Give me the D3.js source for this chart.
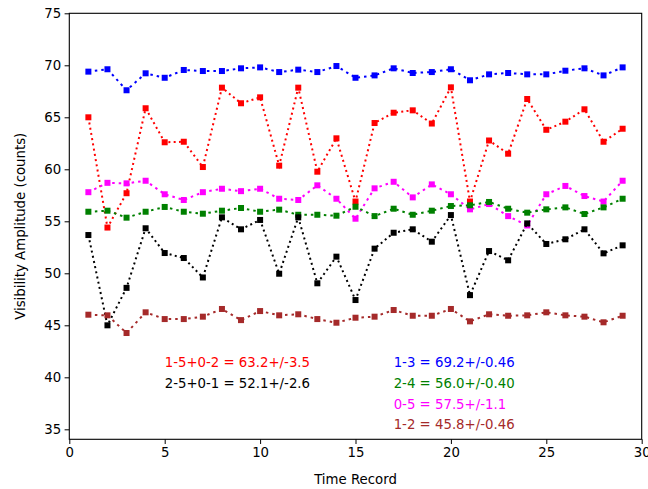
<!DOCTYPE html>
<html>
<head>
<meta charset="utf-8">
<script src="https://cdn.jsdelivr.net/npm/d3@7"></script>
<style>
  body { margin: 0; background: #fff; }
  svg { display: block; font-family: "DejaVu Sans", sans-serif; }
</style>
</head>
<body>
<div id="chart"></div>
<script>
// Time records 1..29
const records = d3.range(1, 30);

// Visibility amplitudes per baseline
const amp13 = [69.39, 69.62, 67.6, 69.23, 68.8, 69.55, 69.45, 69.45, 69.71, 69.8,
  69.35, 69.58, 69.35, 69.93, 68.8, 69.03, 69.71, 69.26, 69.35, 69.62,
  68.56, 69.13, 69.26, 69.13, 69.13, 69.48, 69.71, 69.03, 69.8];
const amp1502 = [65.0, 54.4, 57.7, 65.87, 62.6, 62.65, 60.22, 67.85, 66.35, 66.92,
  60.35, 67.85, 59.77, 62.98, 56.9, 64.45, 65.44, 65.67, 64.4, 67.88,
  56.9, 62.77, 61.5, 66.76, 63.8, 64.58, 65.77, 62.65, 63.9];
const amp05 = [57.8, 58.7, 58.65, 58.9, 57.6, 57.05, 57.8, 58.13, 57.9, 58.13,
  57.17, 57.05, 58.46, 57.17, 55.25, 58.17, 58.8, 57.3, 58.55, 57.6,
  56.15, 56.66, 55.5, 54.6, 57.6, 58.4, 57.43, 56.9, 58.9];
const amp24 = [55.92, 56.02, 55.35, 55.92, 56.38, 55.92, 55.73, 56.02, 56.28, 55.92,
  56.12, 55.63, 55.63, 55.54, 56.4, 55.5, 56.21, 55.63, 56.02, 56.47,
  56.54, 56.86, 56.21, 55.83, 56.15, 56.34, 55.7, 56.34, 57.17];
const amp2501 = [53.68, 45.0, 48.6, 54.33, 51.95, 51.47, 49.6, 55.38, 54.23, 55.13,
  49.96, 55.38, 49.04, 51.6, 47.43, 52.37, 53.9, 54.23, 53.04, 55.6,
  47.9, 52.14, 51.25, 54.8, 52.82, 53.27, 54.23, 51.92, 52.69];
const amp12 = [46.02, 45.96, 44.26, 46.25, 45.6, 45.6, 45.83, 46.57, 45.5, 46.37,
  45.96, 46.06, 45.6, 45.25, 45.73, 45.83, 46.47, 45.92, 45.92, 46.57,
  45.38, 46.06, 45.92, 45.96, 46.25, 45.96, 45.83, 45.29, 45.92];

const xTicks = [0, 5, 10, 15, 20, 25, 30];
const yTicks = [35, 40, 45, 50, 55, 60, 65, 70, 75];

// Baseline summary labels: [text, x, y]
const labelsLeft = [["1-5+0-2 = 63.2+/-3.5", 5, 41], ["2-5+0-1 = 52.1+/-2.6", 5, 39]];
const labelsRight = [["1-3 = 69.2+/-0.46", 17, 41], ["2-4 = 56.0+/-0.40", 17, 39],
  ["0-5 = 57.5+/-1.1", 17, 37], ["1-2 = 45.8+/-0.46", 17, 35]];

const series = [
  { values: amp13, color: "#0000ff", dash: "2.5,4" },
  { values: amp1502, color: "#ff0000", dash: "2,3.3" },
  { values: amp05, color: "#ff00ff", dash: "2.5,4" },
  { values: amp24, color: "#008000", dash: "2.5,4" },
  { values: amp2501, color: "#000000", dash: "2,3.3" },
  { values: amp12, color: "#a52a2a", dash: "2.5,4" }
];
const labelColors = ["#ff0000", "#000000", "#0000ff", "#008000", "#ff00ff", "#a52a2a"];

const width = 648, height = 489;
const margin = { top: 13.3, right: 6.3, bottom: 49.7, left: 69.3 };

const svg = d3.select("#chart").append("svg")
  .attr("width", width)
  .attr("height", height);

const x = d3.scaleLinear().domain([0, 30]).range([margin.left, width - margin.right]);
const y = d3.scaleLinear().domain([34.04, 75]).range([height - margin.bottom, margin.top]);

// Lines + markers
const line = d3.line()
  .x((d, i) => x(records[i]))
  .y(d => y(d));

const plot = svg.append("g");
series.forEach(s => {
  plot.append("path")
    .datum(s.values)
    .attr("d", line)
    .attr("fill", "none")
    .attr("stroke", s.color)
    .attr("stroke-width", 2)
    .attr("stroke-dasharray", s.dash);

  plot.selectAll(null)
    .data(s.values)
    .join("rect")
    .attr("x", (d, i) => x(records[i]) - 3)
    .attr("y", d => y(d) - 3)
    .attr("width", 6)
    .attr("height", 6)
    .attr("fill", s.color);
});

// Summary text
const allLabels = labelsLeft.concat(labelsRight);
svg.append("g").selectAll("text")
  .data(allLabels)
  .join("text")
  .attr("x", d => x(d[1]))
  .attr("y", d => y(d[2]))
  .attr("font-size", "13.3px")
  .attr("fill", (d, i) => labelColors[i])
  .text(d => d[0]);

// Axes
const xAxis = svg.append("g")
  .attr("transform", `translate(0,${height - margin.bottom})`)
  .call(d3.axisBottom(x).tickValues(xTicks).tickSize(4.7).tickPadding(3.5));
const yAxis = svg.append("g")
  .attr("transform", `translate(${margin.left},0)`)
  .call(d3.axisLeft(y).tickValues(yTicks).tickSize(4.7).tickPadding(3.5));

[xAxis, yAxis].forEach(a => {
  a.selectAll("text").attr("font-size", "13.3px").attr("font-family", "DejaVu Sans").attr("fill", "#000");
  a.select(".domain").remove();
});

// Frame
svg.append("rect")
  .attr("x", margin.left)
  .attr("y", margin.top)
  .attr("width", width - margin.left - margin.right)
  .attr("height", height - margin.top - margin.bottom)
  .attr("fill", "none")
  .attr("stroke", "#000")
  .attr("stroke-width", 1.1);

// Axis titles
svg.append("text")
  .attr("x", (margin.left + width - margin.right) / 2)
  .attr("y", 484)
  .attr("text-anchor", "middle")
  .attr("font-size", "13.3px")
  .text("Time Record");

svg.append("text")
  .attr("transform", `translate(25,${(margin.top + height - margin.bottom) / 2}) rotate(-90)`)
  .attr("text-anchor", "middle")
  .attr("font-size", "13.3px")
  .text("Visibility Amplitude (counts)");
</script>
</body>
</html>
